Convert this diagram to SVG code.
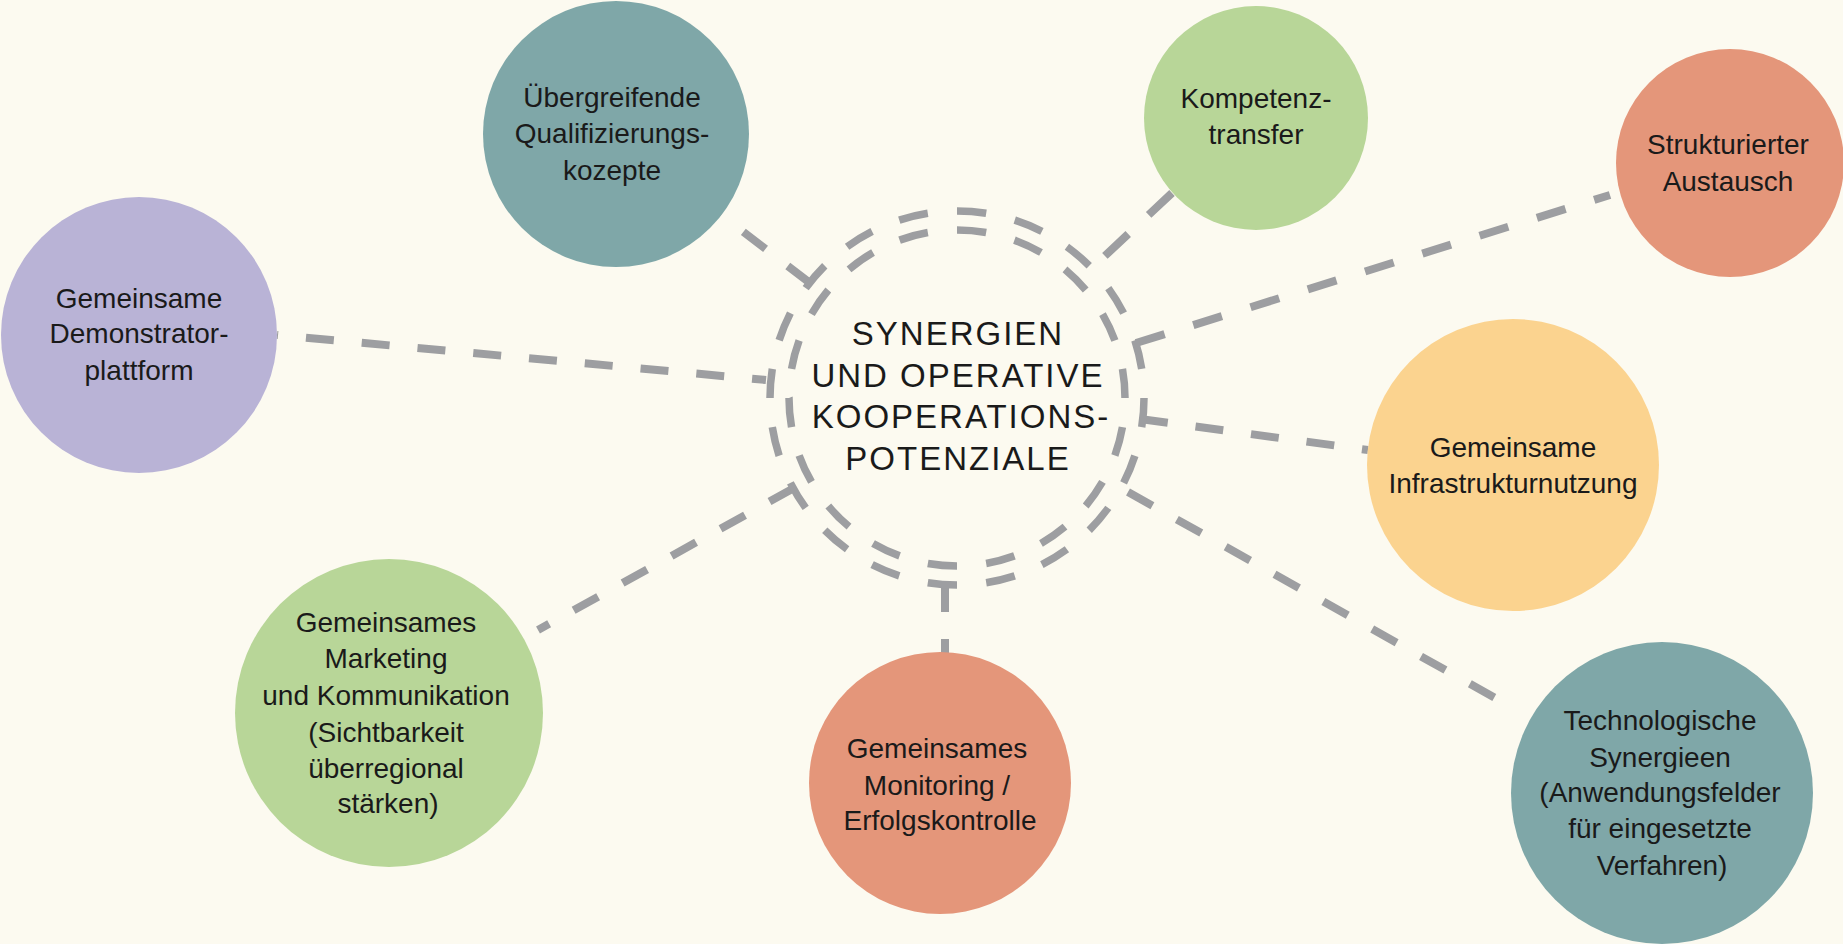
<svg xmlns="http://www.w3.org/2000/svg" width="1843" height="944" viewBox="0 0 1843 944">
<style>
.bg{fill:#fcfaf0}
.conn{fill:none;stroke:#9d9ea1;stroke-width:8;stroke-dasharray:28 28}
.ring{fill:none;stroke:#9d9ea1;stroke-width:7.5}
.lbl{font-family:"Liberation Sans",Arial,sans-serif;font-size:28px;fill:#1a1a1a;text-anchor:middle}
.ctr{font-family:"Liberation Sans",Arial,sans-serif;font-size:33px;letter-spacing:2px;fill:#1a1a1a;text-anchor:middle}
.teal{fill:#7fa7a8}
.lav{fill:#b9b3d6}
.grn{fill:#b8d698}
.sal{fill:#e4967a}
.ora{fill:#fbd38f}
</style>
<rect class="bg" x="0" y="0" width="1843" height="944"/>

<g id="connectors">
<line class="conn" x1="766" y1="380" x2="277" y2="335" style="stroke-dashoffset:14"/>
<line class="conn" x1="810" y1="283" x2="720" y2="214"/>
<line class="conn" x1="1172" y1="193" x2="1092" y2="268" style="stroke-dasharray:32 28"/>
<line class="conn" x1="1136" y1="343" x2="1610" y2="195" style="stroke-dasharray:30 30"/>
<line class="conn" x1="1140" y1="419" x2="1368" y2="450"/>
<line class="conn" x1="1128" y1="492" x2="1513" y2="708"/>
<line class="conn" x1="945" y1="585" x2="945" y2="653" style="stroke-dasharray:27 27"/>
<line class="conn" x1="794" y1="488" x2="538" y2="630"/>
</g>

<g id="center">
<circle class="ring" cx="957" cy="398" r="187" pathLength="1200" stroke-dasharray="30 30"/>
<circle class="ring" cx="957" cy="398" r="168" pathLength="1080" stroke-dasharray="30 30" stroke-dashoffset="30"/>
<text class="ctr" x="958" y="345">SYNERGIEN</text>
<text class="ctr" x="958" y="387">UND OPERATIVE</text>
<text class="ctr" x="961" y="428">KOOPERATIONS-</text>
<text class="ctr" x="958" y="470">POTENZIALE</text>
</g>

<g id="node-qualifizierung">
<circle class="teal" cx="616" cy="134" r="133"/>
<text class="lbl" x="612" y="107">Übergreifende</text>
<text class="lbl" x="612" y="143">Qualifizierungs-</text>
<text class="lbl" x="612" y="180">kozepte</text>
</g>

<g id="node-demonstrator">
<circle class="lav" cx="139" cy="335" r="138"/>
<text class="lbl" x="139" y="308">Gemeinsame</text>
<text class="lbl" x="139" y="343">Demonstrator-</text>
<text class="lbl" x="139" y="380">plattform</text>
</g>

<g id="node-kompetenz">
<circle class="grn" cx="1256" cy="118" r="112"/>
<text class="lbl" x="1256" y="108">Kompetenz-</text>
<text class="lbl" x="1256" y="144">transfer</text>
</g>

<g id="node-austausch">
<circle class="sal" cx="1730" cy="163" r="114"/>
<text class="lbl" x="1728" y="154">Strukturierter</text>
<text class="lbl" x="1728" y="191">Austausch</text>
</g>

<g id="node-infrastruktur">
<circle class="ora" cx="1513" cy="465" r="146"/>
<text class="lbl" x="1513" y="457">Gemeinsame</text>
<text class="lbl" x="1513" y="493">Infrastrukturnutzung</text>
</g>

<g id="node-technologie">
<circle class="teal" cx="1662" cy="793" r="151"/>
<text class="lbl" x="1660" y="730">Technologische</text>
<text class="lbl" x="1660" y="767">Synergieen</text>
<text class="lbl" x="1660" y="802">(Anwendungsfelder</text>
<text class="lbl" x="1660" y="838">für eingesetzte</text>
<text class="lbl" x="1662" y="875">Verfahren)</text>
</g>

<g id="node-monitoring">
<circle class="sal" cx="940" cy="783" r="131"/>
<text class="lbl" x="937" y="758">Gemeinsames</text>
<text class="lbl" x="937" y="795">Monitoring /</text>
<text class="lbl" x="940" y="830">Erfolgskontrolle</text>
</g>

<g id="node-marketing">
<circle class="grn" cx="389" cy="713" r="154"/>
<text class="lbl" x="386" y="632">Gemeinsames</text>
<text class="lbl" x="386" y="668">Marketing</text>
<text class="lbl" x="386" y="705">und Kommunikation</text>
<text class="lbl" x="386" y="742">(Sichtbarkeit</text>
<text class="lbl" x="386" y="778">überregional</text>
<text class="lbl" x="388" y="813">stärken)</text>
</g>
</svg>
